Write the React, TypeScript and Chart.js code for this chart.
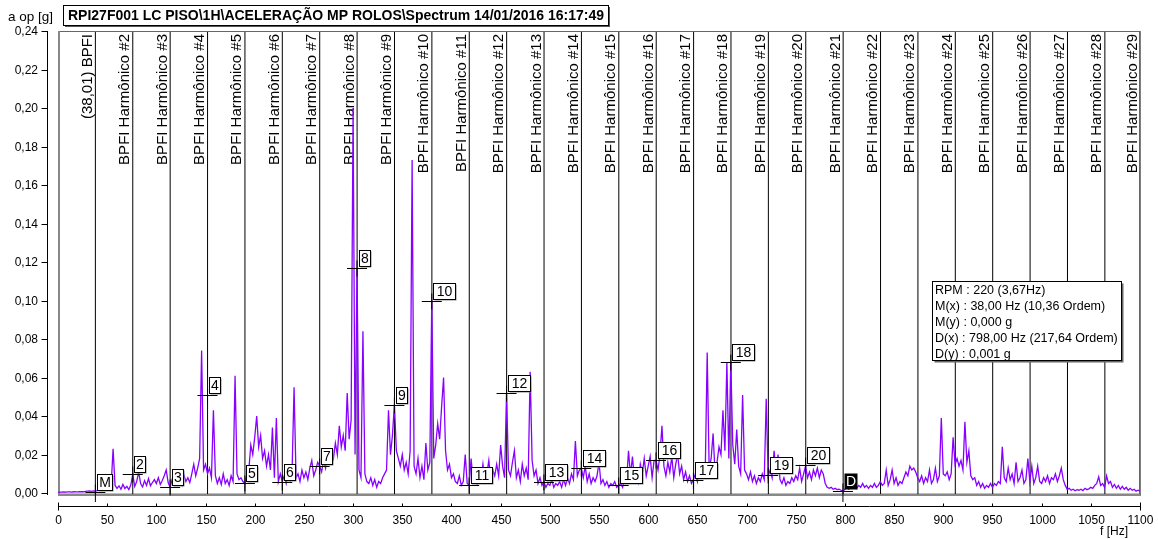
import React, { useEffect, useRef } from 'react';
import { Chart, registerables } from 'chart.js';

Chart.register(...registerables);

// Spectrum amplitude in mg, one value every 2 Hz
const STEP_HZ = 2;
const spec0 = [0.4,0.5,0.5,0.6,0.5,0.6,0.6,0.5,0.7,0.6, 0.6,0.7,0.8,0.7,0.9,1.0,1.1,0.9,1.2,1.0, 1.3,1.5,1.8,2.2,1.6,2.5,3.0,3.5,23.0,4.0, 2.5,3.8,2.0,4.5,2.4,3.5,1.8,4.2,9.8,3.5, 6.0,11.0,5.0,3.2,6.5,4.0,7.5,3.8,5.5,7.0];
const spec1 = [5.0,8.0,4.5,6.5,9.0,12.0,5.5,3.0,7.0,4.5, 8.5,5.0,6.5,4.0,9.5,6.0,8.0,5.5,10.0,15.0, 9.0,13.0,18.0,74.0,12.0,15.0,10.0,13.0,8.0,43.0, 9.0,5.0,8.0,4.5,10.0,5.0,7.0,4.0,9.0,6.0, 61.0,10.0,7.0,8.0,6.0,5.0,9.0,12.0,25.0,20.0];
const spec2 = [29,40,24,30,18,22,14,20,12,34, 8,39,6,10,6,9,5,11,7,12, 55,8,10,6,12,8,11,7,13,17, 9,12,16,14,11,17,13,20,16,22, 18,26,20,35,24,30,22,52,28,38];
const spec3 = [200,20,117,12,8,84,10,6,5,8, 4,7,3,6,5,8,10,12,43,20, 30,46,22,18,14,20,12,16,10,22, 173,14,10,18,8,14,7,26,12,16, 100,18,25,36,28,45,60,22,12,15];
const spec4 = [8,10,6,5,9,4,6,20,5,4, 18,6,9,5,12,7,15,6,10,17, 7,12,9,15,9,25,14,8,52,12, 9,16,22,8,12,6,15,9,13,7, 63,17,9,12,5,8,4,6,3,5];
const spec5 = [4,7,3,5,4,6,3,7,4,8, 5,10,7,27,9,12,13,8,14,6, 10,5,8,6,9,16,5,7,4,6, 3,5,4,6,3,4,5,3,8,6, 22,9,19,7,12,6,15,10,18,9];
const spec6 = [14,19,8,17,17,12,20,35,14,9, 16,11,19,8,15,20,10,14,7,11, 6,9,5,7,10,6,12,9,8,11, 73,12,18,31,10,16,24,20,43,22, 68,18,68,25,15,33,14,10,51,12];
const spec7 = [10,7,11,6,9,5,8,6,10,7, 49,9,12,8,22,10,20,7,5,8, 4,6,5,8,6,9,7,13,6,10, 14,8,11,7,12,9,13,8,12,10, 5,3,2.5,3,2,2.5,1.8,2,1.5,1];
const spec8 = [2,3,2,4,3,5,2.5,4,3,5, 3,4,2.5,4,3,5,3,4,6,4, 5,12,4,7,12,5,8,4,6,5, 8,11,9,14,12,13,11,8,6,9, 5,8,6,12,5,7,13,6,9,39];
const spec9 = [10,9,11,7,10,29,15,18,14,17, 12,37,16,22,9,7,8,4,6,3, 5,2.5,4,3,5,3,5,4,6,5, 24,8,6,13,7,10,5,16,6,8, 12,5,7,18,6,14,5,8,14,6];
const spec10 = [5,8,6,9,5,8,7,10,6,9, 13,7,4,2,2.5,1.5,2,1.2,1.8,1.5, 2,1.3,2.5,1.8,2.2,3,2.5,4,5,8.5, 4,5,3,9,5,6,3,4.5,2.5,4, 2,3.5,2,3,1.5,2.5,1.5,2,1,1.5, 1];

// Harmonic cursors
const BPFI_HZ = 38.01;
const harmonicOrders = [1,2,3,4,5,6,7,8,9,10,11,12,13,14,15,16,17,18,19,20,21,22,23,24,25,26,27,28,29];
const harmonicLabels = [
  '(38,01) BPFI','BPFI Harmônico #2','BPFI Harmônico #3','BPFI Harmônico #4','BPFI Harmônico #5',
  'BPFI Harmônico #6','BPFI Harmônico #7','BPFI Harmônico #8','BPFI Harmônico #9','BPFI Harmônico #10',
  'BPFI Harmônico #11','BPFI Harmônico #12','BPFI Harmônico #13','BPFI Harmônico #14','BPFI Harmônico #15',
  'BPFI Harmônico #16','BPFI Harmônico #17','BPFI Harmônico #18','BPFI Harmônico #19','BPFI Harmônico #20',
  'BPFI Harmônico #21','BPFI Harmônico #22','BPFI Harmônico #23','BPFI Harmônico #24','BPFI Harmônico #25',
  'BPFI Harmônico #26','BPFI Harmônico #27','BPFI Harmônico #28','BPFI Harmônico #29',
];

// Markers
const markerLabels = ['M','2','3','4','5','6','7','8','9','10','11','12','13','14','15','16','17','18','19','20','D'];
const markerFreqs = [38,76,114,152,190,228,266,304,342,380,418,456,494,532,570,608,646,684,722,760,798];
const markerValues = [0.0005,0.010,0.003,0.051,0.005,0.006,0.014,0.117,0.046,0.100,0.004,0.052,0.006,0.013,0.004,0.017,0.007,0.068,0.0094,0.0145,0.001];

// Axes
const xTickValues = [0,50,100,150,200,250,300,350,400,450,500,550,600,650,700,750,800,850,900,950,1000,1050,1100];
const xTickLabels = ['0','50','100','150','200','250','300','350','400','450','500','550','600','650','700','750','800','850','900','950','1000','1050','1100'];
const yTickValues = [0,0.02,0.04,0.06,0.08,0.10,0.12,0.14,0.16,0.18,0.20,0.22,0.24];
const yTickLabels = ['0,00','0,02','0,04','0,06','0,08','0,10','0,12','0,14','0,16','0,18','0,20','0,22','0,24'];

const titleText = 'RPI27F001 LC PISO\\1H\\ACELERAÇÃO MP ROLOS\\Spectrum 14/01/2016 16:17:49';
const yAxisTitle = 'a op [g]';
const xAxisTitle = 'f [Hz]';
const infoLines = [
  'RPM : 220 (3,67Hz)',
  'M(x) : 38,00 Hz (10,36 Ordem)',
  'M(y) : 0,000 g',
  'D(x) : 798,00 Hz (217,64 Ordem)',
  'D(y) : 0,001 g',
];

const FONT = '"Liberation Sans", Arial, sans-serif';

export default function App() {
  const canvasRef = useRef<HTMLCanvasElement | null>(null);

  useEffect(() => {
    const canvas = canvasRef.current;
    if (!canvas) return;
    const spectrum = [...spec0, ...spec1, ...spec2, ...spec3, ...spec4, ...spec5, ...spec6, ...spec7, ...spec8, ...spec9, ...spec10];
    const points = spectrum.map((mg, i) => ({ x: i * STEP_HZ, y: mg / 1000 }));

    const decor = {
      id: 'decor',
      beforeDraw(chart: any) {
        const ctx = chart.ctx;
        ctx.save();
        ctx.fillStyle = '#fff';
        ctx.fillRect(0, 0, chart.width, chart.height);
        ctx.restore();
      },
      beforeDatasetsDraw(chart: any) {
        const ctx = chart.ctx;
        const ca = chart.chartArea;
        const xs = chart.scales.x;
        const ys = chart.scales.y;
        ctx.save();
        // zero line
        const y0 = ys.getPixelForValue(0);
        ctx.strokeStyle = '#b8b8b8';
        ctx.lineWidth = 1;
        ctx.beginPath();
        ctx.moveTo(ca.left, y0 + 0.5);
        ctx.lineTo(ca.right, y0 + 0.5);
        ctx.stroke();
        // harmonic lines + labels
        ctx.strokeStyle = '#000';
        ctx.fillStyle = '#000';
        ctx.font = `15px ${FONT}`;
        harmonicOrders.forEach((k, i) => {
          const x = xs.getPixelForValue(k * BPFI_HZ);
          const xl = Math.min(x, ca.right);
          ctx.beginPath();
          ctx.moveTo(xl, ca.top);
          ctx.lineTo(xl, ca.bottom);
          ctx.stroke();
          ctx.save();
          ctx.translate(xl - 3.5, ca.top + 3);
          ctx.rotate(-Math.PI / 2);
          ctx.textAlign = 'right';
          ctx.textBaseline = 'alphabetic';
          ctx.fillText(harmonicLabels[i], 0, 0);
          ctx.restore();
        });
        // frame
        ctx.strokeStyle = '#666';
        ctx.lineWidth = 1;
        ctx.strokeRect(ca.left + 0.5, ca.top + 0.5, ca.right - ca.left - 1, ca.bottom - ca.top - 1);
        ctx.strokeStyle = '#888';
        ctx.lineWidth = 2;
        ctx.beginPath();
        ctx.moveTo(ca.left, ca.bottom - 1);
        ctx.lineTo(ca.right, ca.bottom - 1);
        ctx.moveTo(ca.left + 1, ca.top);
        ctx.lineTo(ca.left + 1, ca.bottom);
        ctx.stroke();
        ctx.restore();
      },
      afterDatasetsDraw(chart: any) {
        const ctx = chart.ctx;
        const ca = chart.chartArea;
        const xs = chart.scales.x;
        const ys = chart.scales.y;
        ctx.save();
        // markers
        ctx.font = `14px ${FONT}`;
        markerLabels.forEach((lab, i) => {
          const x = xs.getPixelForValue(markerFreqs[i]);
          const y = Math.round(ys.getPixelForValue(markerValues[i])) + 0.5;
          ctx.strokeStyle = '#000';
          ctx.lineWidth = 1;
          ctx.beginPath();
          ctx.moveTo(x - 10, y);
          ctx.lineTo(x + 10, y);
          const isMD = lab === 'M' || lab === 'D';
          ctx.moveTo(x, y - 8);
          ctx.lineTo(x, isMD ? ca.bottom + 6 : y + 8);
          ctx.stroke();
          const tw = ctx.measureText(lab).width;
          const w = Math.round(tw + (lab.length > 1 && !isMD ? 6 : 3));
          const h = 16;
          const bx = Math.round(x + 1.5) + 0.5;
          const by = Math.round(y - 3 - h) + 0.5;
          if (lab === 'D') {
            ctx.fillStyle = '#000';
            ctx.fillRect(bx, by, w, h);
            ctx.fillStyle = '#fff';
          } else {
            ctx.fillStyle = '#888';
            ctx.fillRect(bx + 1, by + 1, w, h);
            ctx.fillStyle = '#fff';
            ctx.fillRect(bx, by, w, h);
            ctx.strokeStyle = '#000';
            ctx.strokeRect(bx, by, w, h);
            ctx.fillStyle = '#000';
          }
          ctx.textAlign = 'center';
          ctx.textBaseline = 'middle';
          ctx.fillText(lab, bx + w / 2, by + h / 2 + 1);
        });

        // info box
        const ix = 932.5, iy = 281.5, iw = 189, ih = 79;
        ctx.fillStyle = '#666';
        ctx.fillRect(ix + 2, iy + 2, iw, ih);
        ctx.fillStyle = '#fff';
        ctx.fillRect(ix, iy, iw, ih);
        ctx.strokeStyle = '#000';
        ctx.lineWidth = 1;
        ctx.strokeRect(ix, iy, iw, ih);
        ctx.fillStyle = '#000';
        ctx.font = `12.5px ${FONT}`;
        ctx.textAlign = 'left';
        ctx.textBaseline = 'alphabetic';
        infoLines.forEach((t, i) => ctx.fillText(t, 935, 294 + i * 16));

        // title box
        ctx.font = `bold 14px ${FONT}`;
        const ttw = ctx.measureText(titleText).width;
        const tx = 63.5, ty = 5.5, th = 20;
        const tw2 = Math.round(ttw + 9);
        ctx.fillStyle = '#555';
        ctx.fillRect(tx + 1.5, ty + 1.5, tw2, th);
        ctx.fillStyle = '#fff';
        ctx.fillRect(tx, ty, tw2, th);
        ctx.strokeStyle = '#000';
        ctx.strokeRect(tx, ty, tw2, th);
        ctx.fillStyle = '#000';
        ctx.textBaseline = 'middle';
        ctx.fillText(titleText, tx + 4.5, ty + th / 2 + 1);

        // y axis title
        ctx.font = `13.5px ${FONT}`;
        ctx.textAlign = 'left';
        ctx.textBaseline = 'alphabetic';
        ctx.fillText(yAxisTitle, 8, 21);

        // y axis
        ctx.font = `12px ${FONT}`;
        const ax = 47.5;
        ctx.strokeStyle = '#000';
        ctx.lineWidth = 1;
        ctx.beginPath();
        ctx.moveTo(ax, ys.getPixelForValue(0.24));
        ctx.lineTo(ax, ca.bottom - 1);
        ctx.stroke();
        ctx.textAlign = 'right';
        ctx.textBaseline = 'middle';
        yTickValues.forEach((v, i) => {
          const y = Math.round(ys.getPixelForValue(v)) + 0.5;
          ctx.beginPath();
          ctx.moveTo(ax - 6, y);
          ctx.lineTo(ax, y);
          ctx.stroke();
          ctx.fillText(yTickLabels[i], 38, y);
        });

        // x axis
        const ay = 506.5;
        ctx.beginPath();
        ctx.moveTo(ca.left, ay);
        ctx.lineTo(ca.right, ay);
        ctx.stroke();
        ctx.textAlign = 'center';
        ctx.textBaseline = 'alphabetic';
        xTickValues.forEach((v, i) => {
          const x = Math.round(xs.getPixelForValue(v)) + 0.5;
          const end = i === 0 || i === xTickValues.length - 1;
          ctx.beginPath();
          ctx.moveTo(x, end ? ay - 4 : ay - 3);
          ctx.lineTo(x, end ? ay + 4 : ay);
          ctx.stroke();
          ctx.fillText(xTickLabels[i], x, 524);
        });
        ctx.textAlign = 'right';
        ctx.fillText(xAxisTitle, 1128, 535);
        ctx.restore();
      },
    };

    const chart = new Chart(canvas, {
      type: 'line',
      data: {
        datasets: [
          {
            data: points,
            borderColor: '#8800ff',
            borderWidth: 1.3,
            pointRadius: 0,
            tension: 0,
            fill: false,
          },
        ],
      },
      options: {
        animation: false,
        responsive: false,
        devicePixelRatio: 1,
        events: [],
        layout: { padding: { left: 58, right: 18, top: 31, bottom: 43 } },
        scales: {
          x: { type: 'linear', min: 0, max: 1100, display: false },
          y: { type: 'linear', min: -0.0015, max: 0.24, display: false },
        },
        plugins: { legend: { display: false }, tooltip: { enabled: false }, title: { display: false } },
      },
      plugins: [decor],
    });
    return () => chart.destroy();
  }, []);

  return (
    <div style={{ position: 'absolute', left: 0, top: 0, width: 1158, height: 539, background: '#fff' }}>
      <canvas ref={canvasRef} width={1158} height={539} style={{ display: 'block', width: 1158, height: 539 }} />
    </div>
  );
}
